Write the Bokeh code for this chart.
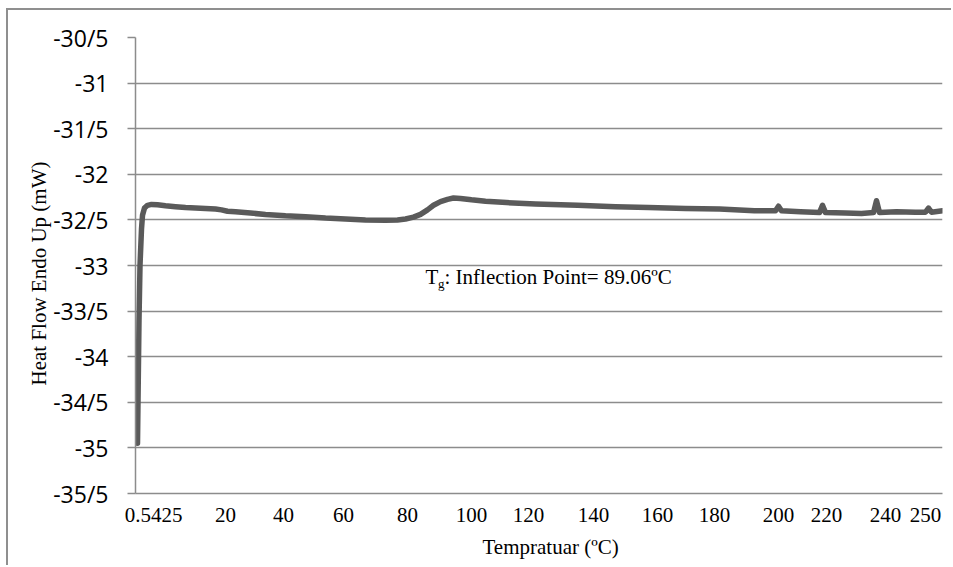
from bokeh.plotting import figure
from bokeh.models import Range1d, FixedTicker, Label, Title
from bokeh.embed import file_html
from bokeh.resources import INLINE

# ---- data (x = Excel category position of the sample row, y = heat flow in mW) ----
sample_row = [2, 3.5, 4.5, 6, 7, 9, 12, 16, 22, 30, 40, 50, 60, 70, 80, 86, 92, 100,
              115, 130, 150, 170, 190, 210, 230, 250, 262, 270, 278, 285, 292, 298,
              305, 312, 318, 325, 336, 350, 371, 400, 442, 480, 513, 550, 584, 619,
              640, 643, 646, 665, 684, 687, 690, 710, 726, 738, 741, 744, 761, 780,
              790, 793, 796, 807]
heat_flow = [-34.95, -33.6, -33.0, -32.6, -32.45, -32.37, -32.34, -32.33, -32.335,
             -32.345, -32.355, -32.365, -32.37, -32.375, -32.38, -32.39, -32.405,
             -32.41, -32.425, -32.44, -32.455, -32.465, -32.48, -32.49, -32.50,
             -32.505, -32.50, -32.49, -32.47, -32.44, -32.39, -32.34, -32.30, -32.275,
             -32.26, -32.265, -32.28, -32.295, -32.31, -32.325, -32.34, -32.355,
             -32.365, -32.375, -32.38, -32.40, -32.40, -32.35, -32.40, -32.41,
             -32.42, -32.34, -32.42, -32.425, -32.43, -32.42, -32.29, -32.42,
             -32.41, -32.415, -32.415, -32.37, -32.415, -32.40]

x_tick_rows = [18, 90, 148, 208, 272, 336, 393, 458, 522, 579, 643, 691, 750, 790]
x_tick_labels = ["0.5425", "20", "40", "60", "80", "100", "120", "140", "160",
                 "180", "200", "220", "240", "250"]
y_ticks = [-35.5, -35, -34.5, -34, -33.5, -33, -32.5, -32, -31.5, -31, -30.5]
y_tick_labels = ["-35/5", "-35", "-34/5", "-34", "-33/5", "-33", "-32/5", "-32",
                 "-31/5", "-31", "-30/5"]

x_title = "Tempratuar (ºC)"
y_title = "Heat Flow Endo Up (mW)"
note_main = "T"
note_sub = "g"
note_rest = ": Inflection Point= 89.06ºC"

SERIF = "Liberation Serif"
GRID = "#8c8c8c"

p = figure(width=945, height=557, output_backend="svg", toolbar_location=None,
           x_range=Range1d(0, 807), y_range=Range1d(-35.5, -30.5),
           min_border_left=127, min_border_right=11, min_border_top=27,
           min_border_bottom=73)
p.styles = {"margin-left": "6px", "margin-top": "8px",
            "border-left": "2px solid #8f8f8f", "border-top": "2px solid #8f8f8f"}
p.outline_line_color = None
p.background_fill_color = "white"
p.border_fill_color = "white"

p.line(sample_row, heat_flow, line_color="#5a5a5a", line_width=5.5,
       line_join="round", line_cap="round")

# grid
p.xgrid.visible = False
p.ygrid.ticker = FixedTicker(ticks=y_ticks)
p.ygrid.grid_line_color = GRID
p.ygrid.grid_line_width = 1.3

# y axis
ya = p.yaxis[0]
ya.ticker = FixedTicker(ticks=y_ticks)
ya.major_label_overrides = dict(zip(y_ticks, y_tick_labels))
ya.axis_line_color = GRID
ya.axis_line_width = 1.5
ya.major_tick_line_color = GRID
ya.major_tick_line_width = 1.3
ya.major_tick_out = 8
ya.major_tick_in = 0
ya.minor_tick_line_color = None
ya.major_label_standoff = 19
ya.major_label_text_font = "Open Sans"
ya.major_label_text_font_size = "23px"
ya.major_label_text_color = "black"

# x axis
xa = p.xaxis[0]
xa.ticker = FixedTicker(ticks=x_tick_rows)
xa.major_label_overrides = dict(zip(x_tick_rows, x_tick_labels))
xa.axis_line_color = GRID
xa.axis_line_width = 1.3
xa.major_tick_line_color = None
xa.major_tick_out = 0
xa.major_tick_in = 0
xa.minor_tick_line_color = None
xa.major_label_standoff = 14
xa.major_label_text_font = SERIF
xa.major_label_text_font_size = "21px"
xa.major_label_text_color = "black"

# axis titles
p.add_layout(Title(text=x_title, align="left", offset=347, text_font=SERIF,
                   text_font_size="21px", text_font_style="normal",
                   text_color="black", standoff=17), "below")
p.add_layout(Title(text=y_title, align="left", offset=108, text_font=SERIF,
                   text_font_size="21px", text_font_style="normal",
                   text_color="black", standoff=0), "left")

# annotation
common = dict(text_font=SERIF, text_color="black", text_baseline="alphabetic")
note_y = -33.125
p.add_layout(Label(x=290, y=note_y, text=note_main, text_font_size="21px", **common))
p.add_layout(Label(x=290, y=note_y, x_offset=12.5, y_offset=-7, text=note_sub,
                   text_font_size="13px", **common))
p.add_layout(Label(x=290, y=note_y, x_offset=19, text=note_rest,
                   text_font_size="21px", **common))

open("out.html", "w").write(file_html(p, INLINE))
